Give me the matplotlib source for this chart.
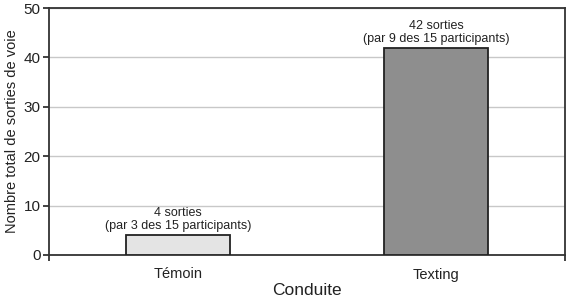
import matplotlib.pyplot as plt

plt.rcParams['font.family'] = ['Liberation Sans', 'DejaVu Sans']

# Donnees
conditions = ['Témoin', 'Texting']
sorties = [4, 42]
notes = ['4 sorties\n(par 3 des 15 participants)',
         '42 sorties\n(par 9 des 15 participants)']
couleurs = ['#e4e4e4', '#8e8e8e']

fig = plt.figure(figsize=(5.67, 3.0), dpi=100)
ax = fig.add_axes([49 / 567, 45 / 300, 516 / 567, 247 / 300])

x = list(range(len(conditions)))
ax.bar(x, sorties, width=0.4, color=couleurs, edgecolor='#222222', linewidth=1.3, zorder=3)

for xi, v, t in zip(x, sorties, notes):
    ax.text(xi, v + 0.6, t, ha='center', va='bottom', fontsize=9, color='#222222',
            linespacing=1.1)

ax.set_xlim(-0.5, 1.5)
ax.set_ylim(0, 50)
ax.set_yticks([0, 10, 20, 30, 40, 50])
ax.yaxis.grid(True, color='#c8c8c8', linewidth=1.0, zorder=0)
ax.set_axisbelow(True)

ax.set_xticks(x)
ax.set_xticklabels(conditions, fontsize=10.5, color='#222222')
ax.tick_params(axis='x', which='major', length=0, pad=9)
ax.set_xticks([-0.5, 1.5], minor=True)
ax.tick_params(axis='x', which='minor', length=4, width=1.3, color='#333333')
ax.tick_params(axis='y', length=4, width=1.3, color='#333333', labelsize=11,
               labelcolor='#222222', pad=2)

for s in ax.spines.values():
    s.set_color('#333333')
    s.set_linewidth(1.3)

ax.set_xlabel('Conduite', fontsize=12.5, color='#222222', labelpad=1)
ax.set_ylabel('Nombre total de sorties de voie', fontsize=10.5, color='#222222', labelpad=3)

fig.savefig('out.png', dpi=100)
